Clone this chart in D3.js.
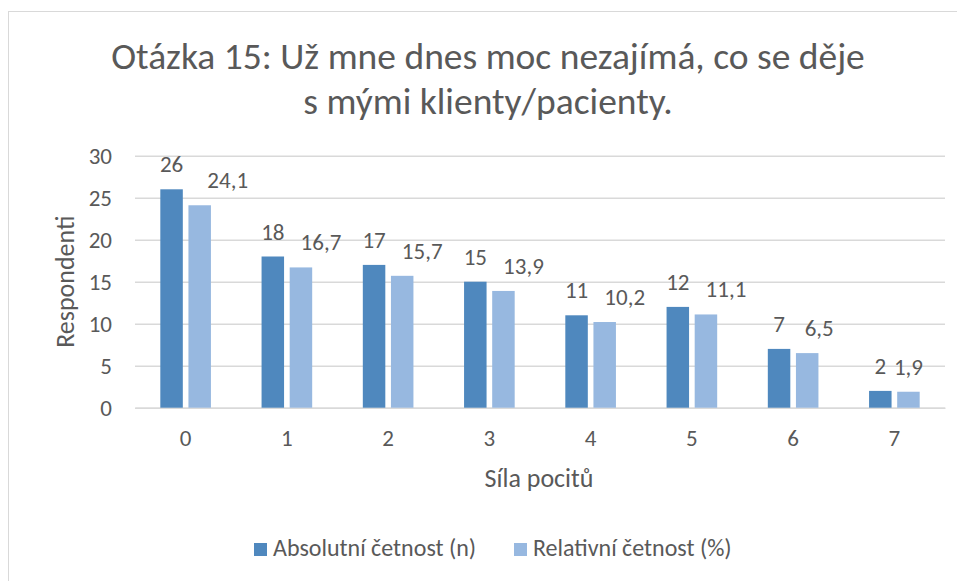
<!DOCTYPE html>
<html>
<head>
<meta charset="utf-8">
<script src="https://cdn.jsdelivr.net/npm/d3@7"></script>
<style>
body { margin: 0; background: #fff; }
text { font-family: Carlito, Calibri, Lato, sans-serif; fill: #595959; }
</style>
</head>
<body>
<div id="chart"></div>
<script>
var categories = ["0", "1", "2", "3", "4", "5", "6", "7"];
var absolutni = [26, 18, 17, 15, 11, 12, 7, 2];
var relativni = [24.1, 16.7, 15.7, 13.9, 10.2, 11.1, 6.5, 1.9];
var yTicks = [0, 5, 10, 15, 20, 25, 30];
var seriesNames = ["Absolutní četnost (n)", "Relativní četnost (%)"];
var titleLines = ["Otázka 15: Už mne dnes moc nezajímá, co se děje", "s mými klienty/pacienty."];
// the % labels were nudged right in the original chart
var relLabelShift = [28, 20, 20, 20, 20, 20, 12, 0];

var colors = ["#4F88BE", "#97B8E0"];
var plot = {l: 135, r: 945, t: 155.7, b: 407.7};

var svg = d3.select("#chart")
            .append("svg")
            .attr("width", 957)
            .attr("height", 581);

svg.append("rect")
   .attr("x", 8.5).attr("y", 11.5)
   .attr("width", 1000).attr("height", 1000)
   .attr("fill", "none")
   .attr("stroke", "#D9D9D9");

var x = d3.scaleBand().domain(categories).range([plot.l, plot.r]);
var inner = d3.scaleBand().domain([0, 1]).range([-x.bandwidth() / 4, x.bandwidth() / 4]).paddingInner(0.2);
var y = d3.scaleLinear().domain([0, 30]).range([plot.b, plot.t]);

// gridlines + y labels
var axisY = d3.axisLeft(y).tickValues(yTicks).tickSize(-(plot.r - plot.l)).tickPadding(23);
var gy = svg.append("g")
            .attr("transform", "translate(" + plot.l + ",0)")
            .call(axisY);
gy.select(".domain").remove();
gy.selectAll("line").attr("stroke", "#D9D9D9").attr("stroke-width", 1.5);
gy.selectAll("text").attr("font-size", 23).attr("font-family", null).attr("fill", null);

// x axis
var axisX = d3.axisBottom(x).tickSize(0).tickPadding(0);
var gx = svg.append("g")
            .attr("transform", "translate(0," + plot.b + ")")
            .call(axisX);
gx.select(".domain").attr("stroke", "#D9D9D9").attr("stroke-width", 1.5);
gx.selectAll("text").attr("font-size", 23).attr("font-family", null).attr("fill", null)
  .attr("dy", null).attr("y", 38);

var series = [absolutni, relativni];
series.forEach(function(vals, s) {
  var g = svg.append("g");
  g.selectAll("rect")
   .data(vals)
   .enter()
   .append("rect")
   .attr("x", function(d, i) { return x(categories[i]) + x.bandwidth() / 2 + inner(s); })
   .attr("y", function(d) { return y(d); })
   .attr("width", inner.bandwidth())
   .attr("height", function(d) { return plot.b - y(d); })
   .attr("fill", colors[s]);
  g.selectAll("text")
   .data(vals)
   .enter()
   .append("text")
   .attr("x", function(d, i) {
     var c = x(categories[i]) + x.bandwidth() / 2 + inner(s) + inner.bandwidth() / 2;
     return s === 1 ? c + relLabelShift[i] : c;
   })
   .attr("y", function(d) { return y(d) - 17; })
   .attr("text-anchor", "middle")
   .attr("font-size", 23)
   .text(function(d) { return String(d).replace(".", ","); });
});

// titles
svg.selectAll(".title")
   .data(titleLines)
   .enter()
   .append("text")
   .attr("class", "title")
   .attr("x", 488)
   .attr("y", function(d, i) { return 69 + i * 45; })
   .attr("text-anchor", "middle")
   .attr("font-size", 37.5)
   .text(function(d) { return d; });

svg.append("text")
   .attr("x", 539).attr("y", 487)
   .attr("text-anchor", "middle")
   .attr("font-size", 26)
   .text("Síla pocitů");

svg.append("text")
   .attr("transform", "translate(74," + ((plot.t + plot.b) / 2) + ") rotate(-90)")
   .attr("text-anchor", "middle")
   .attr("font-size", 26)
   .text("Respondenti");

// legend
var legX = [254, 514];
var leg = svg.selectAll(".leg")
             .data(seriesNames)
             .enter()
             .append("g")
             .attr("class", "leg")
             .attr("transform", function(d, i) { return "translate(" + legX[i] + ",543)"; });
leg.append("rect").attr("width", 13).attr("height", 13).attr("fill", function(d, i) { return colors[i]; });
leg.append("text").attr("x", 19).attr("y", 13).attr("font-size", 24).text(function(d) { return d; });
</script>
</body>
</html>
